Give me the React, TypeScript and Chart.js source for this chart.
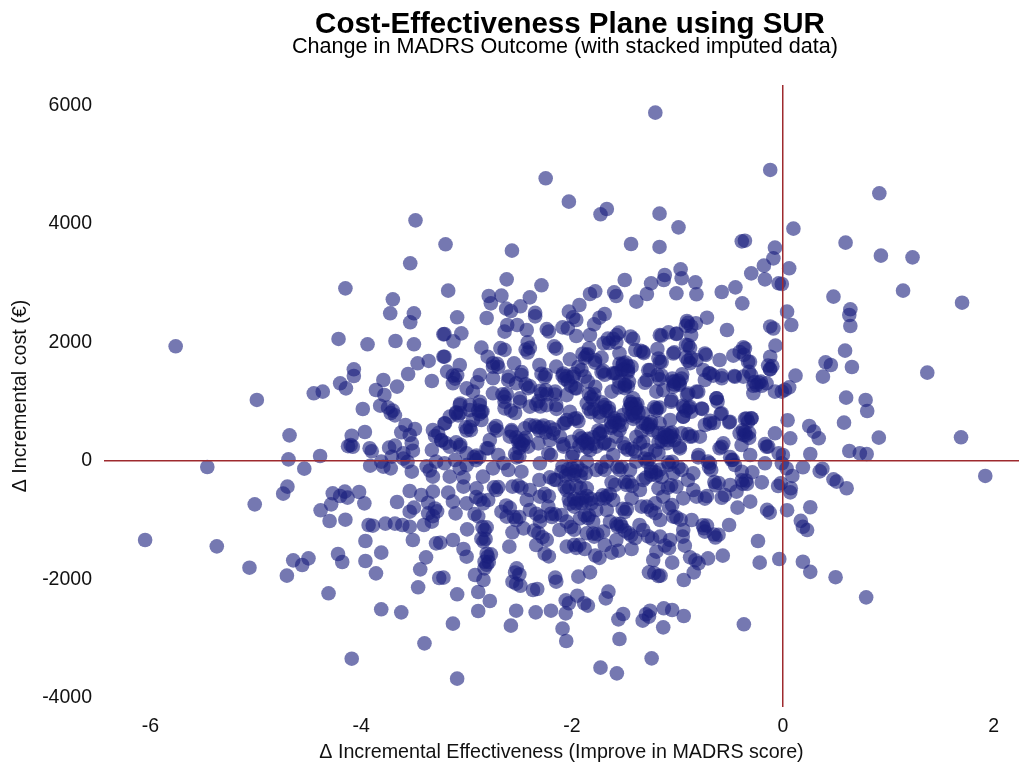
import React, { useEffect, useRef } from "react";
import { Chart, registerables } from "chart.js";

Chart.register(...registerables);

const TITLE = "Cost-Effectiveness Plane using SUR";
const SUBTITLE = "Change in MADRS Outcome (with stacked imputed data)";
const X_LABEL = "Δ Incremental Effectiveness (Improve in MADRS score)";
const Y_LABEL = "Δ Incremental cost (€)";
const xTicks = [-6, -4, -2, 0, 2];
const yTicks = [-4000, -2000, 0, 2000, 4000, 6000];

// each entry: [incremental effectiveness, incremental cost]
const upperLeft: [number, number][] = [
  [-3.485,4060],[-3.535,3335],[-4.15,2913],[-3.70,2728],[-3.725,2492],[-3.50,2492],[-3.535,2340],[-3.22,2137],[-4.215,2059],[-3.94,1969],[-3.675,2025],[-3.50,1969],[-5.76,1935],[-3.22,1760],[-3.36,1688],[-3.465,1648],[-3.555,1468],[-4.07,1547],[-4.07,1434],[-4.20,1311],[-4.145,1226],[-3.79,1367],[-3.66,1255],[-3.33,1350],[-3.86,1198],[-3.78,1114],[-4.365,1170],[-4.45,1142],[-4.99,1030],
];
const leftMiddle: [number, number][] = [
  [-3.985,877],[-3.82,933],[-3.745,900],[-3.70,850],[-3.68,770],[-3.72,810],[-3.58,607],[-3.62,484],[-3.49,540],[-3.54,439],[-3.32,523],[-3.30,420],[-3.27,470],[-3.965,489],[-4.09,427],[-4.68,433],[-4.10,270],[-4.125,250],[-4.08,240],[-3.92,215],[-3.90,165],[-3.735,225],[-3.68,259],[-3.52,298],[-3.51,174],[-3.60,129],[-3.33,185],[-4.69,28],[-4.39,84],[-4.54,-129],[-5.46,-101],[-3.915,-79],[-3.81,-11],[-3.79,-96],[-3.72,-124],[-3.60,40],[-3.56,-15],[-3.71,73],[-3.52,-180],[-3.38,-90],[-3.35,-160],[-3.32,-264],[-3.29,-11],
];
const lowerLeft: [number, number][] = [
  [-4.70,-433],[-4.74,-551],[-5.01,-731],[-4.27,-545],[-4.155,-517],[-4.20,-590],[-4.13,-618],[-4.02,-523],[-3.97,-714],[-4.285,-731],[-4.385,-832],[-4.30,-1012],[-4.15,-990],[-3.66,-692],[-3.54,-506],[-3.43,-574],[-3.32,-517],[-3.365,-703],[-3.50,-787],[-3.54,-855],[-3.365,-883],[-3.32,-930],[-3.28,-850],[-3.30,-800],[-3.93,-1080],[-3.89,-1091],[-3.77,-1057],[-3.68,-1057],[-3.61,-1080],[-3.54,-1108],[-3.405,-1080],[-3.33,-1023],[-3.96,-1350],[-3.51,-1333],[-3.29,-1389],[-6.05,-1333],[-5.37,-1440],[-5.06,-1800],[-4.705,-1934],[-4.645,-1676],[-4.56,-1754],[-4.50,-1642],[-4.22,-1569],[-4.18,-1704],[-3.96,-1687],[-3.81,-1546],[-3.86,-1895],[-3.385,-1625],[-3.44,-1828],[-3.26,-1974],[-3.46,-2131],[-4.31,-2232],[-3.81,-2502],[-3.62,-2553],[-3.40,-3076],[-4.09,-3335],
];
const upperCentre: [number, number][] = [
  [-1.17,4173],[-0.99,3942],[-0.12,4910],[-1.21,5877],[-2.25,4769],[-2.03,4375],[-1.73,4162],[-1.67,4252],[-1.44,3661],[-1.17,3611],[-0.39,3706],[-0.36,3717],[-0.075,3599],[-0.09,3419],[-0.18,3296],[-0.30,3166],[-0.17,3065],[-0.97,3234],[-1.12,3138],[-1.13,3054],[-0.96,3082],[-0.83,3015],[-1.25,2998],[-1.29,2818],[-1.39,2688],[-1.50,3054],[-1.01,2829],[-0.82,2812],[-0.58,2851],[-0.45,2930],[-0.385,2660],[-0.04,2998],[-3.20,3656],[-2.57,3549],[-2.62,3065],[-2.29,2964],[-3.175,2874],[-2.79,2784],[-2.77,2660],[-2.67,2790],[-2.40,2761],[-2.49,2610],[-2.625,2570],[-2.58,2530],[-1.83,2818],[-1.78,2863],[-1.60,2846],[-1.58,2784],[-1.93,2632],[-2.35,2500],[-2.35,2440],[-3.09,2424],[-2.81,2413],[-2.03,2520],[-1.99,2424],[-1.96,2379],[-1.69,2480],[-1.74,2418],[-1.79,2306],[-2.52,2295],[-2.615,2295],[-2.64,2182],[-2.09,2255],[-2.04,2238],[-1.96,2109],[-1.83,2126],[-2.43,2210],[-2.24,2225],[-2.22,2185],[-3.21,2143],[-3.05,2154],[-3.125,2019],[-2.86,1912],[-3.21,1760],[-2.42,2002],[-2.44,1880],[-2.40,1910],[-2.42,1830],[-2.17,1935],[-2.15,1895],[-2.68,1905],[-2.64,1875],[-0.91,2362],[-0.92,2280],[-0.87,2270],[-0.90,2330],[-0.825,2323],[-0.72,2418],[-0.53,2210],[-0.12,2270],[-0.09,2235],[-1.15,2115],[-1.085,2171],[-1.01,2143],[-0.87,2126],[-1.555,2165],[-1.445,2100],[-1.42,2060],[-1.66,2065],[-1.61,2060],[-1.65,1990],[-1.58,2000],[-1.70,1984],[-0.07,1946],[-0.92,1960],[-0.88,1910],[-0.375,1918],[-0.41,1840],[-0.37,1790],[-0.47,1777],[-1.19,1890],[-1.03,1834],[-0.73,1789],[-0.60,1704],[-1.84,1901],[-1.90,1810],[-1.85,1800],[-1.88,1740],[-1.78,1704],[-1.72,1744],[-2.02,1716],[-1.35,1860],[-1.32,1820],[-1.40,1873],[-1.55,1817],[-1.52,1620],[-1.47,1600],[-1.51,1550],[-1.47,1530],[-1.58,1480],[-1.435,1592],[-1.18,1730],[-1.15,1670],[-1.19,1450],[-1.15,1440],[-1.17,1380],[-1.26,1536],[-1.29,1367],[-1.04,1345],[-0.99,1350],[-1.03,1290],[-0.98,1285],[-0.955,1463],[-0.92,1750],[-0.87,1740],[-0.90,1690],[-0.82,1704],[-0.755,1536],[-0.70,1480],[-0.66,1440],[-0.74,1367],[-0.58,1395],[-0.46,1435],[-0.32,1505],[-0.30,1450],[-0.375,1423],[-0.27,1330],[-0.23,1325],[-0.25,1280],[-0.155,1311],[-0.14,1610],[-0.10,1600],[-0.12,1545],[-0.12,1760],[-0.33,1676],[-3.185,1508],[-3.13,1440],[-3.09,1445],[-3.11,1390],[-3.065,1620],[-3.13,1311],[-2.875,1451],[-2.90,1328],[-3.00,1226],[-2.94,1170],[-2.80,1760],[-2.75,1650],[-2.71,1640],[-2.75,1590],[-2.70,1585],[-2.55,1648],[-2.75,1395],[-2.60,1423],[-2.48,1451],[-2.53,1311],[-2.44,1295],[-2.40,1260],[-2.31,1620],[-2.29,1470],[-2.25,1455],[-2.26,1410],[-2.15,1592],[-2.09,1440],[-2.05,1430],[-2.07,1385],[-1.94,1585],[-1.91,1535],[-1.88,1423],[-2.01,1270],[-1.97,1230],[-1.72,1495],[-1.69,1455],[-1.61,1480],[-1.50,1295],[-1.47,1260],[-1.625,1170],[-2.30,1185],[-2.25,1195],[-2.29,1130],[-2.24,1125],[-2.16,1170],[-2.66,1125],[-2.62,1130],[-2.64,1080],[-2.75,1142],[-1.84,1130],[-1.79,1125],[-1.82,1075],[-1.42,1058],[-1.20,1170],[-0.82,1170],[-0.91,1114],[-0.63,1058],[-0.28,1142],[-0.075,1170],
];
const rightSide: [number, number][] = [
  [0.915,4516],[0.10,3920],[0.595,3684],[0.93,3464],[1.23,3436],[0.06,3251],[-0.01,2986],[1.14,2874],[0.48,2773],[1.70,2671],[0.64,2559],[0.63,2463],[0.64,2278],[0.04,2520],[0.08,2295],[0.59,1862],[0.405,1665],[0.455,1620],[0.655,1586],[0.38,1423],[0.12,1440],[1.37,1491],[0.06,1243],[0.02,1200],[-0.01,1170],[0.60,1069],[0.785,1030],[0.80,844],[0.58,647],[0.045,687],[0.25,591],[0.295,495],[0.34,383],[0.07,383],[0.91,394],[1.69,400],[0.26,118],[0.63,169],[0.73,130],[0.795,118],[0.00,102],[0.19,-106],[0.035,-123],[0.09,-252],[0.375,-130],[0.35,-175],[1.92,-252],[0.48,-309],[0.51,-348],[0.605,-460],[0.075,-460],[-0.02,-375],[-0.01,-39],[0.04,-830],[0.07,-530],[0.26,-780],[0.19,-1110],[0.23,-1165],[0.17,-1010],[0.19,-1700],[0.26,-1870],[0.50,-1960],[0.79,-2300],
];
const lowerCentreA: [number, number][] = [
  [-3.065,945],[-2.97,945],[-2.875,945],[-2.89,850],[-2.85,835],[-2.88,790],[-3.10,820],[-3.06,810],[-3.08,770],[-3.01,570],[-2.97,575],[-3.00,515],[-2.96,520],[-2.94,692],[-2.86,692],[-3.16,748],[-3.21,635],[-2.74,550],[-2.71,515],[-2.64,888],[-2.58,850],[-2.54,810],[-2.64,1000],[-2.495,1000],[-2.34,955],[-2.30,920],[-2.15,945],[-2.02,832],[-1.98,710],[-1.94,670],[-1.86,973],[-1.84,880],[-1.79,870],[-1.82,825],[-1.70,905],[-1.65,895],[-1.68,850],[-1.44,965],[-1.40,950],[-1.43,900],[-1.39,890],[-1.44,770],[-1.40,750],[-1.42,710],[-1.60,680],[-1.56,640],[-1.515,776],[-1.22,905],[-1.17,900],[-1.20,850],[-1.30,625],[-1.26,620],[-1.28,570],[-1.12,470],[-1.07,465],[-1.12,405],[-1.07,400],[-1.095,435],[-1.17,635],[-1.06,1000],[-0.94,905],[-0.89,895],[-0.92,850],[-0.945,748],[-0.765,877],[-0.59,793],[-0.69,680],[-0.655,640],[-0.74,607],[-0.51,652],[-0.62,1000],[-0.36,710],[-0.33,660],[-0.36,490],[-0.32,475],[-0.35,430],[-0.41,467],[-0.30,720],[-0.565,298],[-0.60,214],[-0.50,65],[-0.475,20],[-0.31,101],[-0.17,285],[-0.14,245],[-0.075,467],[-0.04,129],[-0.17,-39],[-0.90,455],[-0.86,415],[-0.96,467],[-0.80,101],[-0.71,-11],[-0.70,-105],[-0.68,-150],[-0.39,-180],[-0.29,-191],[-0.20,-360],[-0.045,-422],[-0.39,-325],[-0.35,-330],[-0.38,-385],[-0.34,-385],[-0.455,-67],[-0.50,-405],[-0.44,-517],[-0.65,-355],[-0.61,-370],[-0.64,-410],[-0.58,-620],[-0.55,-575],[-0.74,-635],[-0.72,-590],[-0.31,-686],[-0.43,-787],[-0.15,-825],[-0.125,-870],[-0.85,-489],[-0.90,-321],[-0.945,-630],[-1.01,-433],[-1.09,-450],[-1.06,-410],[-1.08,-790],[-1.05,-745],[-1.25,-180],[-1.21,-190],[-1.25,-235],[-1.20,-240],[-1.325,-321],[-1.18,-461],[-1.09,-20],[-1.05,-15],[-1.08,-65],[-0.99,-105],[-0.96,-150],[-1.31,40],[-1.27,30],[-1.29,-15],[-1.21,175],[-1.18,135],[-1.43,205],[-1.40,160],[-1.57,-100],[-1.53,-100],[-1.55,-150],[-1.72,-105],[-1.69,-150],[-1.61,101],[-1.45,-152],[-1.50,-355],[-1.46,-350],[-1.48,-405],[-1.625,-360],[-1.59,-400],[-1.71,-580],[-1.67,-590],[-1.69,-630],[-1.435,-630],[-1.67,-827],[-1.52,-805],[-1.48,-810],[-1.50,-860],[-1.29,-770],[-1.21,-714],[-1.25,-835],[-1.21,-880],[-1.165,-995],[-1.01,-950],[-0.97,-990],[-0.865,-995],[-0.945,-1164],[-0.76,-1085],[-0.72,-1090],[-0.75,-1135],[-0.74,-1192],[-0.655,-1240],[-0.61,-1245],[-0.64,-1290],[-0.51,-1080],[-1.36,-1080],[-1.58,-1060],[-1.54,-1060],[-1.57,-1105],[-1.53,-1105],[-1.64,-1023],[-1.50,-1175],[-1.465,-1215],[-1.44,-1256],[-1.40,-1300],[-1.28,-1270],[-1.24,-1310],[-1.165,-1276],[-1.07,-1333],[-1.12,-1425],[-1.08,-1470],[-1.20,-1530],[-0.93,-1428],[-0.95,-1276],
];
const lowerCentreB: [number, number][] = [
  [-1.435,-1484],[-1.56,-1513],[-1.625,-1546],[-1.69,-1417],[-1.78,-1595],[-1.74,-1635],[-1.88,-1484],[-1.98,-1415],[-1.96,-1465],[-1.93,-1415],[-2.05,-1445],[-1.80,-1225],[-1.79,-1275],[-1.76,-1235],[-1.705,-1192],[-2.01,-1115],[-1.98,-1160],[-2.12,-1164],[-1.88,-915],[-1.85,-965],[-1.84,-915],[-1.80,-1023],[-2.26,-1565],[-2.22,-1610],[-2.34,-1417],[-2.28,-1285],[-2.24,-1330],[-2.36,-1175],[-2.32,-1215],[-2.46,-1136],[-2.565,-1203],[-2.55,-945],[-2.53,-995],[-2.50,-945],[-2.34,-890],[-2.30,-935],[-2.20,-890],[-2.16,-900],[-2.19,-945],[-2.10,-911],[-2.225,-770],[-2.67,-855],[-2.625,-750],[-2.59,-790],[-2.40,-827],[-2.26,-555],[-2.22,-595],[-2.40,-489],[-2.51,-415],[-2.48,-450],[-2.565,-433],[-2.74,-445],[-2.70,-440],[-2.72,-490],[-2.795,-658],[-2.906,-461],[-2.91,-610],[-2.87,-650],[-3.00,-714],[-3.105,-883],[-2.925,-895],[-2.89,-935],[-2.85,-1115],[-2.81,-1120],[-2.83,-1165],[-2.995,-1153],[-2.86,-1310],[-2.82,-1315],[-2.84,-1360],[-3.13,-1333],[-3.25,-1378],[-3.03,-1484],[-3.00,-1614],[-2.81,-1565],[-2.77,-1575],[-2.80,-1615],[-2.83,-1700],[-2.79,-1705],[-2.81,-1750],[-2.83,-1811],[-2.92,-1923],[-2.84,-2007],[-3.22,-1968],[-2.595,-1445],[-2.525,-1811],[-2.54,-1880],[-2.50,-1915],[-2.565,-2036],[-2.53,-2070],[-2.49,-2105],[-2.37,-2176],[-2.33,-2159],[-2.16,-1968],[-2.15,-2036],[-1.94,-1951],[-1.83,-1878],[-2.89,-2210],[-3.09,-2249],[-2.78,-2362],[-2.89,-2530],[-3.13,-2744],[-2.53,-2525],[-2.58,-2778],[-2.345,-2553],[-2.20,-2525],[-2.06,-2570],[-2.06,-2350],[-2.03,-2400],[-1.95,-2272],[-1.885,-2400],[-1.85,-2440],[-2.09,-2828],[-2.055,-3036],[-3.09,-3672],[-1.655,-2204],[-1.68,-2317],[-1.515,-2581],[-1.56,-2671],[-1.55,-3003],[-1.33,-2694],[-1.30,-2585],[-1.27,-2625],[-1.26,-2525],[-1.13,-2485],[-1.05,-2513],[-0.94,-2615],[-1.135,-2806],[-0.37,-2755],[-1.245,-3329],[-1.73,-3486],[-1.575,-3582],[-1.05,-1715],[-1.23,-1670],[-1.27,-1878],[-1.22,-1890],[-1.18,-1940],[-1.16,-1934],[-0.94,-2007],[-0.845,-1878],[-0.88,-1625],[-0.83,-1675],[-0.80,-1725],[-0.71,-1642],[-0.57,-1597],[-0.236,-1350],[-0.22,-1715],[-0.034,-1653],
];
const denseCore: [number, number][] = [
  [-2.04,-140],[-2.00,-120],[-1.97,-170],[-2.03,-220],[-1.98,-235],[-2.03,-650],[-1.98,-640],[-2.02,-720],[-1.96,-715],[-1.94,-650],[-1.98,-770],[-1.90,-620],[-1.87,-680],[-1.91,-715],[-2.07,-440],[-2.03,-445],[-2.05,-495],[-1.96,-415],[-1.92,-455],[-1.91,-160],[-1.87,-205],[-2.10,-180],[-2.21,-275],[-2.17,-315],[-2.31,-321],[-1.91,385],[-1.85,375],[-1.90,310],[-1.85,300],[-1.88,340],[-1.75,515],[-1.71,500],[-1.74,455],[-1.63,655],[-1.59,640],[-1.62,590],[-1.50,230],[-1.47,190],[-1.356,298],[-1.69,315],[-1.65,275],[-1.77,242],[-2.005,326],[-2.08,635],[-2.33,570],[-2.29,565],[-2.31,515],[-2.21,570],[-2.17,530],[-2.40,607],[-2.50,345],[-2.46,340],[-2.48,295],[-2.54,120],[-2.50,80],[-2.416,242],[-2.575,495],[-2.225,129],[-2.08,242],[-2.70,101],[-2.81,214],[-2.93,65],[-2.88,60],[-2.91,15],[-3.10,315],[-3.06,275],[-3.24,345],[-3.20,305],[-3.11,17],[-3.065,-124],[-3.16,-264],[-3.03,-276],[-2.845,-264],[-2.75,-124],[-2.605,-152],[-2.48,-180],[-3.175,-534],[-3.13,-686],
];
const extraUpper: [number, number][] = [
  [-3.06,971],[-2.875,1000],[-2.97,859],[-2.86,831],[-3.10,803],[-3.205,634],[-2.72,590],[-2.574,522],[-2.447,550],[-2.27,600],[-2.51,325],[-2.463,269],[-2.32,297],[-2.07,634],[-1.957,720],[-1.736,466],[-1.70,297],[-3.064,241],[-3.16,241],[-2.795,213],[-2.906,90],[-2.20,100],[-2.084,280],[-2.526,60],[-1.989,129],[-2.18,466],[-3.24,353],[-3.0,129],[-2.495,1056],[-2.163,1120],[-2.052,1112],[-1.957,1224],[-1.80,1040],[-1.688,943],[-2.147,880],[-2.321,1010],[-2.242,943],[-1.862,1786],[-2.084,1477],[-1.989,1421],[-1.704,1520],[-1.783,1660],[-2.606,1364],[-2.479,1500],[-2.416,1230],[-1.578,2123],[-1.167,2123],[-1.008,2151],[-0.898,1954],[-0.74,1814],[-1.04,1814],[-0.88,1650],[-0.36,1898],[-0.312,1673],[-0.123,1550],[-0.455,1421],[-0.58,1440],[-0.692,1477],[-0.803,1168],[-0.898,1140],[-0.629,1056],[-0.771,887],[-0.882,915],[-0.945,747],[-0.581,803],[-0.502,662],[-0.692,634],[-0.344,718],[-0.297,718],[-0.37,438],[-0.392,269],[-0.581,241],[-0.803,60],[-0.692,-40],[-0.486,16],[-0.154,240],[-1.03,1336],[-0.98,1310],[-1.167,1673],[-1.277,1533],[-1.31,1320],[-1.135,1196],[-1.056,1027],[-1.198,887],[-1.44,960],[-1.546,690],[-1.277,606],[-1.13,400],[-1.09,350],[-1.06,420],[-0.882,410],[-0.977,213],[-1.325,325],[-1.515,297],[-1.5,1280],[-1.515,1645],[-1.325,1842],[-1.594,1477],
];
const extraLower: [number, number][] = [
  [-1.77,-152],[-1.86,-461],[-2.15,-320],[-2.305,-602],[-2.43,-658],[-2.62,-939],[-2.84,-714],[-3.03,-433],[-1.815,-714],[-1.61,-658],[-1.356,-489],[-1.34,-770],[-1.135,-602],[-1.77,-827],[-1.925,-967],[-2.05,-1023],[-2.305,-1023],[-1.86,-1220],[-1.58,-1333],[-1.325,-1164],[-1.04,-939],[-0.82,-602],[-1.04,-208],[-0.85,-208],[-1.39,-11],[-1.67,-11],[-1.86,-11],[-2.305,-39],[-2.65,-39],[-3.0,-67],[-3.21,-39],[-2.0,73],[-2.59,410],[-2.78,354],[-2.21,354],[-2.115,410],[-1.58,410],[-1.39,410],[-1.29,186],[-0.98,242],[-0.787,410],[-1.83,186],[-2.40,917],[-2.05,692],[-1.736,748],[-1.325,804],[-1.07,692],
];
const darkBlobs: [number, number][] = [
  [-1.45,1000],[-1.40,870],[-1.38,960],[-1.46,880],[-1.42,800],[-1.37,810],[-1.55,1640],[-1.49,1660],[-1.53,1530],[-1.47,1500],[-1.55,1340],[-1.50,1230],[-1.46,1340],[-1.56,1240],[-1.60,720],[-1.53,600],[-1.63,560],[-1.55,520],[-1.33,640],[-1.25,660],[-1.24,520],[-1.34,500],[-1.18,470],[-1.15,340],[-1.10,300],[-1.18,320],[-1.05,480],[-1.03,350],[-1.05,1390],[-0.96,1390],[-1.04,1250],[-0.21,1340],[-0.20,1270],[-0.28,1270],[-0.38,520],[-0.32,390],[-0.95,930],[-0.87,830],[-1.93,420],[-1.80,400],[-1.80,290],[-1.93,260],[-1.86,230],[-2.04,1350],[-1.98,1470],[-2.53,400],[-2.44,390],[-2.50,220],[-2.35,600],[-2.25,480],[-1.72,990],[-1.65,840],[-1.74,820],[-1.95,-90],[-1.92,-260],[-2.06,-250],[-2.09,-90],[-1.85,1340],[-1.78,1250],[-1.25,-130],[-1.17,-150],[-1.15,-270],[-1.30,-280],[-1.64,-560],[-1.74,-640],[-1.43,-420],[-1.86,-590],[-1.82,-640],
];

const allPoints = [
  ...upperLeft, ...leftMiddle, ...lowerLeft, ...upperCentre, ...rightSide,
  ...lowerCentreA, ...lowerCentreB, ...denseCore, ...extraUpper, ...extraLower, ...darkBlobs,
].map(([x, y]) => ({ x, y }));

const LINE_RED = "#9e2a2e";
const placeHeadings = {
  id: "placeHeadings",
  afterLayout(chart: any) {
    for (const box of chart.boxes) {
      if (box.options?.text === TITLE) { box.left = 270; box.right = 870; box.top = 7; }
      if (box.options?.text === SUBTITLE) { box.left = 265; box.right = 865; box.top = 34; }
    }
  },
};

export default function App() {
  const ref = useRef<HTMLCanvasElement>(null);
  useEffect(() => {
    document.body.style.margin = "0";
    document.body.style.overflow = "hidden";
    const font = "'Liberation Sans', Arial, sans-serif";
    const chart = new Chart(ref.current!, {
      type: "scatter",
      data: {
        datasets: [{
          data: allPoints,
          backgroundColor: "rgba(25,30,125,0.6)",
          borderWidth: 0,
          pointRadius: 7.3,
        }],
      },
      plugins: [placeHeadings],
      options: {
        animation: false,
        responsive: false,
        layout: { padding: 0, autoPadding: false },
        plugins: {
          legend: { display: false },
          tooltip: { enabled: false },
          title: { display: true, text: TITLE, color: "#000", font: { family: font, size: 29.5, weight: "bold" }, padding: 0 },
          subtitle: { display: true, text: SUBTITLE, color: "#000", font: { family: font, size: 21.6, weight: "normal" }, padding: { top: 0, bottom: 23.7 } },
        },
        scales: {
          x: {
            type: "linear", min: -6.44, max: 2.24,
            afterBuildTicks: (a: any) => { a.ticks = xTicks.map((value) => ({ value })); },
            afterFit: (a: any) => { a.height = 60; a.paddingLeft = 0; a.paddingRight = 0; },
            ticks: { color: "#111", font: { family: font, size: 19.5 }, padding: 8, callback: (v: any) => String(v), maxRotation: 0, autoSkip: false },
            grid: { z: 1, drawTicks: false, lineWidth: 1.5, color: (c: any) => (c.tick && c.tick.value === 0 ? LINE_RED : "rgba(0,0,0,0)") },
            border: { display: false },
            title: { display: true, text: X_LABEL, color: "#111", font: { family: font, size: 19.7 }, padding: { top: 0, bottom: 2.5 } },
          },
          y: {
            type: "linear", min: -4150, max: 6343,
            afterBuildTicks: (a: any) => { a.ticks = yTicks.map((value) => ({ value })); },
            afterFit: (a: any) => { a.width = 104; a.paddingTop = 0; a.paddingBottom = 0; },
            ticks: { color: "#111", font: { family: font, size: 19.5 }, padding: 12, callback: (v: any) => String(v), autoSkip: false },
            grid: { z: 1, drawTicks: false, lineWidth: 1.5, color: (c: any) => (c.tick && c.tick.value === 0 ? LINE_RED : "rgba(0,0,0,0)") },
            border: { display: false },
            title: { display: true, text: Y_LABEL, color: "#111", font: { family: font, size: 19.7 }, padding: { top: 9, bottom: 0 } },
          },
        },
      } as any,
    });
    return () => chart.destroy();
  }, []);
  return (
    <div style={{ position: "fixed", left: 0, top: 0, width: 1019, height: 767, background: "#fff" }}>
      <canvas ref={ref} width={1019} height={767} style={{ display: "block" }} />
    </div>
  );
}
